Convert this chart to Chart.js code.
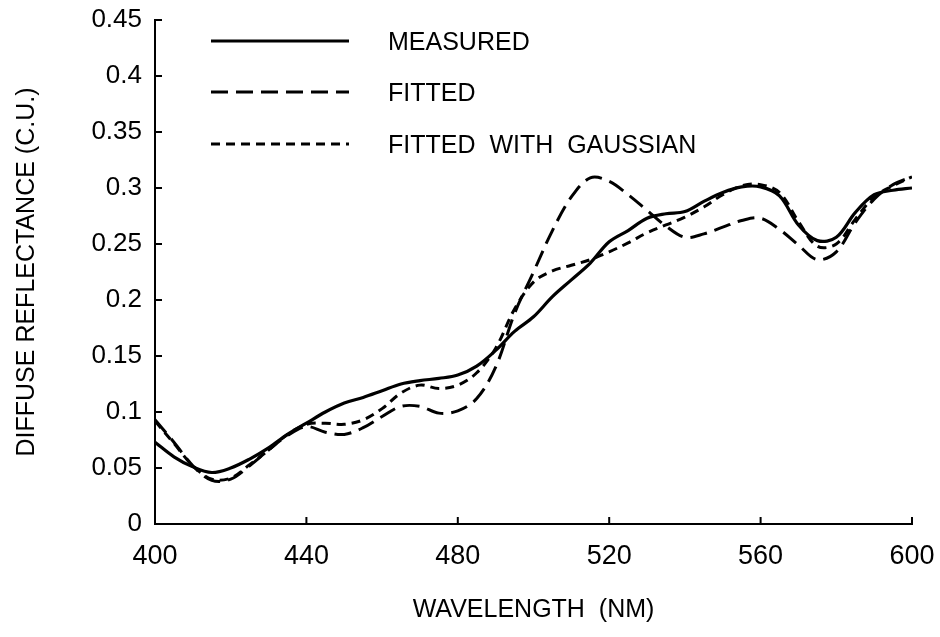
<!DOCTYPE html>
<html>
<head>
<meta charset="utf-8">
<script src="https://cdn.jsdelivr.net/npm/chart.js@4"></script>
<style>
  html, body { margin: 0; padding: 0; background: #fff; }
</style>
</head>
<body>
<canvas id="reflectanceChart" width="940" height="637"></canvas>
<script>
// longitudes de onda (nm) y reflectancia difusa
const wavelengths = [400, 405, 410, 415, 420, 425, 430, 435, 440, 445, 450, 455, 460, 465, 470, 475, 480,
  485, 490, 495, 500, 505, 510, 515, 520, 525, 530, 535, 540, 545, 550, 555, 560, 565, 570, 575, 580,
  585, 590, 595, 600];

const measured = [0.073, 0.060, 0.051, 0.046, 0.050, 0.058, 0.068, 0.080, 0.090, 0.100, 0.108, 0.113,
  0.119, 0.125, 0.128, 0.130, 0.133, 0.141, 0.155, 0.172, 0.185, 0.203, 0.218, 0.233, 0.252, 0.262,
  0.273, 0.277, 0.279, 0.288, 0.296, 0.301, 0.301, 0.293, 0.267, 0.253, 0.256, 0.278, 0.294, 0.298, 0.300];

const fitted = [0.093, 0.073, 0.052, 0.039, 0.040, 0.052, 0.066, 0.079, 0.087, 0.082, 0.080, 0.086,
  0.096, 0.105, 0.105, 0.099, 0.101, 0.112, 0.140, 0.188, 0.225, 0.262, 0.292, 0.309, 0.306, 0.294,
  0.280, 0.266, 0.256, 0.259, 0.265, 0.271, 0.273, 0.263, 0.249, 0.236, 0.243, 0.269, 0.290, 0.303, 0.310];

const fittedGaussian = [0.092, 0.072, 0.052, 0.040, 0.041, 0.053, 0.066, 0.080, 0.089, 0.090, 0.089,
  0.093, 0.103, 0.117, 0.124, 0.121, 0.124, 0.135, 0.157, 0.192, 0.216, 0.226, 0.231, 0.236, 0.243,
  0.251, 0.260, 0.267, 0.274, 0.283, 0.294, 0.302, 0.303, 0.296, 0.270, 0.248, 0.250, 0.272, 0.292,
  0.302, 0.310];

const seriesNames = ['MEASURED', 'FITTED', 'FITTED  WITH  GAUSSIAN'];
const yTickLabels = ['0', '0.05', '0.1', '0.15', '0.2', '0.25', '0.3', '0.35', '0.4', '0.45'];

const FONT = '"Liberation Sans", Arial, Helvetica, sans-serif';
Chart.defaults.font.family = FONT;
Chart.defaults.color = '#000';

function toPoints(values) {
  return values.map((v, i) => ({ x: wavelengths[i], y: v }));
}

// marcas de los ejes hacia dentro, como en la figura original
const inwardTicks = {
  id: 'inwardTicks',
  afterDatasetsDraw(chart) {
    const { ctx, scales: { x, y } } = chart;
    ctx.save();
    ctx.strokeStyle = '#000';
    ctx.lineWidth = 2;
    ctx.beginPath();
    x.ticks.forEach(t => {
      const px = x.getPixelForValue(t.value);
      ctx.moveTo(px, x.top);
      ctx.lineTo(px, x.top - 7);
    });
    y.ticks.forEach(t => {
      const py = y.getPixelForValue(t.value);
      ctx.moveTo(y.right, py);
      ctx.lineTo(y.right + 7, py);
    });
    ctx.stroke();
    ctx.restore();
  }
};

// leyenda dentro del área del gráfico (arriba a la izquierda)
const innerLegend = {
  id: 'innerLegend',
  afterDraw(chart) {
    const ctx = chart.ctx;
    const rows = [41, 92, 144];
    ctx.save();
    chart.data.datasets.forEach((ds, i) => {
      ctx.strokeStyle = ds.borderColor;
      ctx.lineWidth = ds.borderWidth;
      ctx.setLineDash(ds.borderDash || []);
      ctx.beginPath();
      ctx.moveTo(211, rows[i]);
      ctx.lineTo(349, rows[i]);
      ctx.stroke();
      ctx.setLineDash([]);
      ctx.fillStyle = '#000';
      ctx.font = '25px ' + FONT;
      ctx.textBaseline = 'middle';
      ctx.fillText(ds.label, 388, rows[i] + 2);
    });
    ctx.restore();
  }
};

const ctx = document.getElementById('reflectanceChart').getContext('2d');
const chart = new Chart(ctx, {
  type: 'line',
  data: {
    datasets: [
      { label: seriesNames[0], data: toPoints(measured), borderColor: '#000', borderWidth: 3.2, borderDash: [] },
      { label: seriesNames[1], data: toPoints(fitted), borderColor: '#000', borderWidth: 3, borderDash: [17, 8] },
      { label: seriesNames[2], data: toPoints(fittedGaussian), borderColor: '#000', borderWidth: 3, borderDash: [9, 6] }
    ]
  },
  options: {
    responsive: false,
    animation: false,
    tension: 0.35,
    pointRadius: 0,
    layout: { padding: { top: 20, right: 28, left: 0, bottom: 0 } },
    plugins: {
      legend: { display: false },
      tooltip: { enabled: false }
    },
    scales: {
      x: {
        type: 'linear',
        min: 400,
        max: 600,
        grid: { display: false, drawTicks: false },
        border: { display: true, color: '#000', width: 2 },
        ticks: { stepSize: 40, padding: 16, font: { size: 27 } },
        title: { display: true, text: 'WAVELENGTH  (NM)', font: { size: 25 }, padding: { top: 0, bottom: 12 } },
        afterFit(scale) {
          scale.height = 113;
          scale.paddingLeft = 0;
          scale.paddingRight = 0;
        }
      },
      y: {
        min: 0,
        max: 0.45,
        grid: { display: false, drawTicks: false },
        border: { display: true, color: '#000', width: 2 },
        ticks: {
          stepSize: 0.05,
          padding: 13,
          font: { size: 26 },
          callback: (v, i) => yTickLabels[i]
        },
        title: { display: true, text: 'DIFFUSE REFLECTANCE (C.U.)', font: { size: 25 }, padding: { top: 12, bottom: 0 } },
        afterFit(scale) {
          scale.width = 155;
          scale.paddingTop = 0;
          scale.paddingBottom = 0;
        }
      }
    }
  },
  plugins: [inwardTicks, innerLegend]
});
</script>
</body>
</html>
